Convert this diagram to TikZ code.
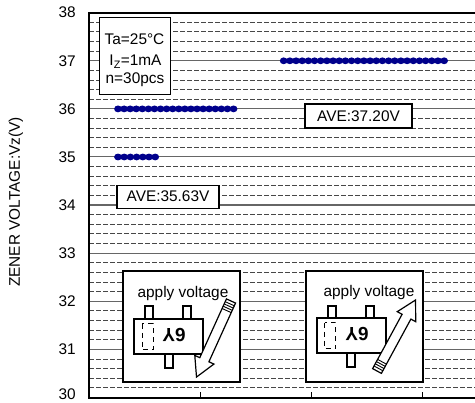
\documentclass[tikz,border=0pt]{standalone}
\usepackage{fontspec}
\setmainfont{Liberation Sans}
\begin{document}
\begin{tikzpicture}[x=1pt,y=-1pt,
  every node/.style={font={\fontsize{15.4pt}{18pt}\selectfont}},
  majorgrid/.style={draw=black!60,line width=1.1pt},
  minorgrid/.style={draw=black!72,line width=0.9pt,dash pattern=on 4.5pt off 2.5pt},
  frameline/.style={draw=black,line width=2.2pt},
  dot/.style={fill={rgb,255:red,0;green,0;blue,140}},
  infobox/.style={draw=black,fill=white,line width=1.3pt,inner sep=0pt},
  insetbox/.style={draw=black,fill=white,line width=1.3pt},
  partline/.style={draw=black,fill=white,line width=1.6pt},
  pinmark/.style={draw=black,line width=1pt,dash pattern=on 5pt off 4pt},
  ticklabel/.style={anchor=east,inner sep=0pt}]
\useasboundingbox (0,0) rectangle (475,403);
% grid
\foreach \i in {1,...,39}{
  \pgfmathsetmacro{\yy}{397.5-\i*9.6225}
  \pgfmathtruncatemacro{\m}{mod(\i,5)}
  \ifnum\m=0
    \draw[majorgrid] (89,\yy) -- (475,\yy);
  \else
    \draw[minorgrid] (89,\yy) -- (475,\yy);
  \fi
}
% frame
\draw[frameline] (475,12.7) -- (89,12.7) -- (89,398) -- (475,398);
\foreach \xx in {200,311,422}{
  \draw[black,line width=0.8pt] (\xx,398) -- (\xx,392.5);
}
% tick labels
\node[ticklabel] (l38) at (76,12.7) {38};
\node[ticklabel] (l37) at (76,60.8) {37};
\node[ticklabel] (l36) at (76,108.9) {36};
\node[ticklabel] (l35) at (76,157) {35};
\node[ticklabel] (l34) at (76,205.1) {34};
\node[ticklabel] (l33) at (76,253.2) {33};
\node[ticklabel] (l32) at (76,301.3) {32};
\node[ticklabel] (l31) at (76,349.4) {31};
\node[ticklabel] (l30) at (76,394.5) {30};
\node[rotate=90,inner sep=0pt] (ylab) at (16,202) {ZENER VOLTAGE:Vz(V)};
% dots
\foreach \k in {0,...,19}{\fill[dot] (118+\k*6.08,108.9) ellipse [x radius=3.9, y radius=3.4];}
\foreach \k in {0,...,6}{\fill[dot] (118+\k*6.2,157) ellipse [x radius=3.9, y radius=3.4];}
\foreach \k in {0,...,26}{\fill[dot] (283.7+\k*6.17,60.8) ellipse [x radius=3.9, y radius=3.4];}
% condition box
\node[infobox,anchor=north west,minimum width=71pt,minimum height=77pt] (cond) at (99,17) {};
\node[anchor=base,inner sep=0pt] (ta) at (134.5,45) {Ta=25°C};
\node[anchor=base,inner sep=0pt] (iz) at (135.5,66) {I\textsubscript{Z}=1mA};
\node[anchor=base,inner sep=0pt] (nn) at (135,83.5) {n=30pcs};
% averages
\node[infobox,minimum width=102pt,minimum height=23pt] (ave1) at (168,196.7) {AVE:35.63V};
\node[infobox,minimum width=107pt,minimum height=24pt] (ave2) at (358.5,116) {AVE:37.20V};
% left inset
\begin{scope}[shift={(123,271)}]
  \draw[insetbox] (0,0) rectangle (117,111);
  \node[anchor=base,inner sep=0pt] (txl) at (60,26.5) {apply voltage};
  \draw[partline] (22,35) rectangle (30,48);
  \draw[partline] (60,35) rectangle (68,48);
  \draw[partline] (42,83) rectangle (50,97);
  \draw[partline] (11,48) rectangle (80,83);
  \draw[pinmark] (19,53) rectangle (30,79);
  \node[rotate=180,inner sep=0pt,font={\fontsize{19pt}{22pt}\selectfont\bfseries}] (pl) at (51,64.5) {6Y};
\end{scope}
\begin{scope}[shift={(231,301)},rotate=245.6]
  \draw[black,fill=white,line width=1.2pt,line join=miter] (0,-5) -- (64.5,-5) -- (64.5,-10.5) -- (83.5,0) -- (64.5,10.5) -- (64.5,5) -- (0,5) -- cycle;
  \foreach \u in {3,5.5,8,10.5}{\draw[black,line width=0.9pt] (\u,-5) -- (\u,5);}
\end{scope}
% right inset
\begin{scope}[shift={(306,271)}]
  \draw[insetbox] (0,0) rectangle (117,111);
  \node[anchor=base,inner sep=0pt] (txr) at (63,26) {apply voltage};
  \draw[partline] (22,35) rectangle (30,47);
  \draw[partline] (60,35) rectangle (68,47);
  \draw[partline] (41,82) rectangle (49,96);
  \draw[partline] (11,47) rectangle (80,82);
  \draw[pinmark] (18.5,52) rectangle (29.5,78);
  \node[rotate=180,inner sep=0pt,font={\fontsize{19pt}{22pt}\selectfont\bfseries}] (pr) at (51,63.5) {6Y};
\end{scope}
\begin{scope}[shift={(377,371)},rotate=61.5]
  \draw[black,fill=white,line width=1.2pt,line join=miter] (0,-5) -- (61.8,-5) -- (61.8,-10.5) -- (80.8,0) -- (61.8,10.5) -- (61.8,5) -- (0,5) -- cycle;
  \foreach \u in {3,5.5,8,10.5}{\draw[black,line width=0.9pt] (\u,-5) -- (\u,5);}
\end{scope}
\end{tikzpicture}
\end{document}
